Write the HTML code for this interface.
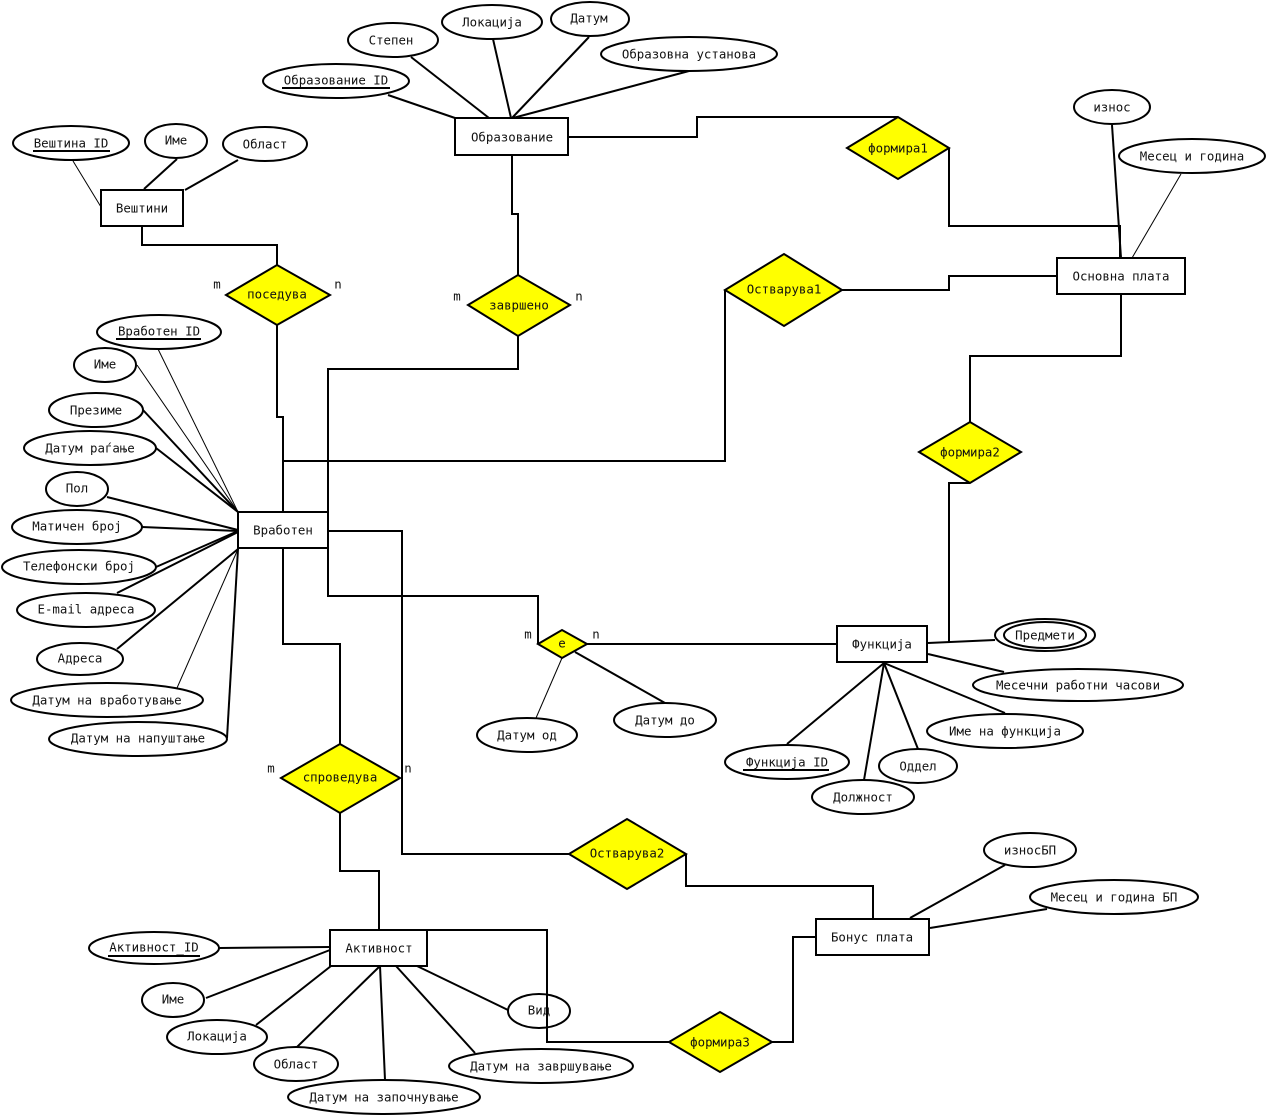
<!DOCTYPE html>
<html>
<head>
<meta charset="utf-8">
<style>
  html,body{margin:0;padding:0;background:#fff;}
  svg{display:block;}
  text{font-family:"DejaVu Sans Mono","Liberation Mono",monospace;font-size:12.4px;fill:#111;text-anchor:middle;}
  .c{fill:none;stroke:#000;stroke-width:2;}
  .t{fill:none;stroke:#000;stroke-width:1;}
  .e{fill:#fff;stroke:#000;stroke-width:2;}
  .r{fill:#fff;stroke:#000;stroke-width:2;}
  .d{fill:#ffff00;stroke:#000;stroke-width:2;}
  .u{stroke:#000;stroke-width:2;}
</style>
</head>
<body>
<svg width="1268" height="1118" viewBox="0 0 1268 1118" xmlns="http://www.w3.org/2000/svg">
<rect x="0" y="0" width="1268" height="1118" fill="#fff"/>

<!-- ===== connectors between entities/relationships ===== -->
<polyline class="c" points="142,226 142,245 277,245 277,265"/>
<polyline class="c" points="277,325 277,417 283,417 283,512"/>
<polyline class="c" points="512,155 512,214 518,214 518,275"/>
<polyline class="c" points="518,336 518,369 328,369 328,596 538,596 538,644"/>
<polyline class="c" points="283,461 725,461 725,290"/>
<polyline class="c" points="842,290 949,290 949,276 1057,276"/>
<polyline class="c" points="568,137 697,137 697,117 898,117"/>
<polyline class="c" points="949,148 949,226 1120,226 1120,258"/>
<polyline class="c" points="1121,294 1121,356 970,356 970,422"/>
<polyline class="c" points="970,483 949,483 949,642"/>
<polyline class="c" points="587,644 837,644"/>
<polyline class="c" points="283,548 283,644 340,644 340,744"/>
<polyline class="c" points="340,813 340,871 379,871 379,930"/>
<polyline class="c" points="328,531 402,531 402,854 569,854"/>
<polyline class="c" points="686,854 686,886 873,886 873,919"/>
<polyline class="c" points="816,937 793,937 793,1042 772,1042"/>

<!-- ===== attribute lines ===== -->
<!-- Вештини -->
<line class="t" x1="73" y1="161" x2="101" y2="207"/>
<line class="c" x1="177" y1="159" x2="144" y2="189"/>
<line class="c" x1="238" y1="160" x2="185" y2="190"/>
<!-- Образование -->
<line class="c" x1="388" y1="95" x2="455" y2="118"/>
<line class="c" x1="411" y1="57" x2="489" y2="118"/>
<line class="c" x1="493" y1="39" x2="511" y2="118"/>
<line class="c" x1="589" y1="37" x2="512" y2="118"/>
<line class="c" x1="689" y1="71" x2="513" y2="118"/>
<!-- Основна плата -->
<line class="c" x1="1112" y1="125" x2="1121" y2="258"/>
<line class="t" x1="1181" y1="174" x2="1132" y2="258"/>
<!-- Вработен -->
<line class="t" x1="158" y1="349" x2="238" y2="512"/>
<line class="t" x1="137" y1="365" x2="238" y2="512"/>
<line class="c" x1="143" y1="410" x2="238" y2="512"/>
<line class="c" x1="156" y1="448" x2="238" y2="512"/>
<line class="c" x1="107" y1="497" x2="238" y2="530"/>
<line class="c" x1="142" y1="527" x2="238" y2="531"/>
<line class="c" x1="156" y1="567" x2="238" y2="531"/>
<line class="c" x1="117" y1="593" x2="238" y2="532"/>
<line class="c" x1="117" y1="649" x2="238" y2="549"/>
<line class="t" x1="177" y1="688" x2="238" y2="549"/>
<line class="c" x1="227" y1="738" x2="238" y2="549"/>
<!-- e relationship -->
<line class="t" x1="562" y1="658" x2="536" y2="718"/>
<line class="c" x1="575" y1="652" x2="665" y2="703"/>
<!-- Функција -->
<line class="c" x1="928" y1="643" x2="995" y2="640"/>
<line class="c" x1="928" y1="654" x2="1004" y2="672"/>
<line class="c" x1="884" y1="663" x2="1005" y2="713"/>
<line class="c" x1="884" y1="663" x2="918" y2="749"/>
<line class="c" x1="884" y1="663" x2="864" y2="780"/>
<line class="c" x1="884" y1="663" x2="787" y2="744"/>
<!-- Бонус плата -->
<line class="c" x1="1005" y1="865" x2="910" y2="918"/>
<line class="c" x1="1047" y1="909" x2="930" y2="928"/>
<!-- Активност -->
<line class="c" x1="219" y1="948" x2="330" y2="947"/>
<line class="c" x1="206" y1="998" x2="330" y2="950"/>
<line class="c" x1="256" y1="1025" x2="331" y2="966"/>
<line class="c" x1="297" y1="1047" x2="380" y2="966"/>
<line class="c" x1="380" y1="966" x2="385" y2="1080"/>
<line class="c" x1="396" y1="966" x2="475" y2="1053"/>
<line class="c" x1="417" y1="966" x2="508" y2="1010"/>

<!-- ===== attribute ellipses ===== -->
<!-- Вештини -->
<ellipse class="e" cx="71" cy="143" rx="58" ry="17"/>
<text x="71" y="143" dy="0.35em">Вештина_ID</text>
<line class="u" x1="33" y1="151" x2="110" y2="151"/>
<ellipse class="e" cx="176" cy="141" rx="31" ry="17"/>
<text x="176" y="140" dy="0.35em">Име</text>
<ellipse class="e" cx="265" cy="144" rx="42" ry="17"/>
<text x="265" y="144" dy="0.35em">Област</text>

<!-- Образование -->
<ellipse class="e" cx="393" cy="40" rx="45" ry="17"/>
<text x="391" y="40" dy="0.35em">Степен</text>
<ellipse class="e" cx="492" cy="22" rx="50" ry="17"/>
<text x="492" y="22" dy="0.35em">Локација</text>
<ellipse class="e" cx="590" cy="19" rx="39" ry="17"/>
<text x="589" y="18" dy="0.35em">Датум</text>
<ellipse class="e" cx="689" cy="54" rx="88" ry="17"/>
<text x="689" y="54" dy="0.35em">Образовна установа</text>
<ellipse class="e" cx="336" cy="81" rx="73" ry="17"/>
<text x="336" y="80" dy="0.35em">Образование_ID</text>
<line class="u" x1="282" y1="88" x2="390" y2="88"/>

<!-- Основна плата -->
<ellipse class="e" cx="1112" cy="107" rx="38" ry="17"/>
<text x="1112" y="107" dy="0.35em">износ</text>
<ellipse class="e" cx="1192" cy="156" rx="73" ry="17"/>
<text x="1192" y="156" dy="0.35em">Месец и година</text>

<!-- Вработен -->
<ellipse class="e" cx="159" cy="332" rx="62" ry="17"/>
<text x="159" y="331" dy="0.35em">Вработен_ID</text>
<line class="u" x1="116" y1="339" x2="201" y2="339"/>
<ellipse class="e" cx="105" cy="365" rx="31" ry="17"/>
<text x="105" y="364" dy="0.35em">Име</text>
<ellipse class="e" cx="96" cy="410" rx="47" ry="17"/>
<text x="96" y="410" dy="0.35em">Презиме</text>
<ellipse class="e" cx="90" cy="448" rx="66" ry="17"/>
<text x="90" y="448" dy="0.35em">Датум раѓање</text>
<ellipse class="e" cx="77" cy="489" rx="31" ry="17"/>
<text x="77" y="488" dy="0.35em">Пол</text>
<ellipse class="e" cx="77" cy="527" rx="65" ry="17"/>
<text x="77" y="526" dy="0.35em">Матичен број</text>
<ellipse class="e" cx="79" cy="567" rx="77" ry="17"/>
<text x="79" y="566" dy="0.35em">Телефонски број</text>
<ellipse class="e" cx="86" cy="610" rx="69" ry="17"/>
<text x="86" y="609" dy="0.35em">E-mail адреса</text>
<ellipse class="e" cx="80" cy="659" rx="43" ry="16"/>
<text x="80" y="658" dy="0.35em">Адреса</text>
<ellipse class="e" cx="107" cy="700" rx="96" ry="17"/>
<text x="107" y="700" dy="0.35em">Датум на вработување</text>
<ellipse class="e" cx="138" cy="739" rx="89" ry="17"/>
<text x="138" y="738" dy="0.35em">Датум на напуштање</text>

<!-- e -->
<ellipse class="e" cx="527" cy="735" rx="50" ry="17"/>
<text x="527" y="735" dy="0.35em">Датум од</text>
<ellipse class="e" cx="665" cy="720" rx="51" ry="17"/>
<text x="665" y="720" dy="0.35em">Датум до</text>

<!-- Функција -->
<ellipse class="e" cx="1045" cy="635" rx="50" ry="16"/>
<ellipse class="e" cx="1045" cy="635" rx="41" ry="13"/>
<text x="1045" y="635" dy="0.35em">Предмети</text>
<ellipse class="e" cx="1078" cy="685" rx="105" ry="16"/>
<text x="1078" y="685" dy="0.35em">Месечни работни часови</text>
<ellipse class="e" cx="1005" cy="731" rx="78" ry="17"/>
<text x="1005" y="731" dy="0.35em">Име на функција</text>
<ellipse class="e" cx="918" cy="766" rx="39" ry="17"/>
<text x="918" y="766" dy="0.35em">Оддел</text>
<ellipse class="e" cx="863" cy="797" rx="51" ry="17"/>
<text x="863" y="797" dy="0.35em">Должност</text>
<ellipse class="e" cx="787" cy="762" rx="62" ry="17"/>
<text x="787" y="762" dy="0.35em">Функција_ID</text>
<line class="u" x1="743" y1="770" x2="829" y2="770"/>

<!-- Бонус плата -->
<ellipse class="e" cx="1030" cy="850" rx="46" ry="17"/>
<text x="1030" y="850" dy="0.35em">износБП</text>
<ellipse class="e" cx="1114" cy="897" rx="84" ry="17"/>
<text x="1114" y="897" dy="0.35em">Месец и година БП</text>

<!-- Активност -->
<ellipse class="e" cx="154" cy="948" rx="65" ry="16"/>
<text x="154" y="947" dy="0.35em">Активност_ID</text>
<line class="u" x1="108" y1="956" x2="200" y2="956"/>
<ellipse class="e" cx="173" cy="1000" rx="31" ry="17"/>
<text x="173" y="999" dy="0.35em">Име</text>
<ellipse class="e" cx="217" cy="1037" rx="50" ry="17"/>
<text x="217" y="1036" dy="0.35em">Локација</text>
<ellipse class="e" cx="296" cy="1064" rx="42" ry="17"/>
<text x="296" y="1064" dy="0.35em">Област</text>
<ellipse class="e" cx="384" cy="1097" rx="96" ry="17"/>
<text x="384" y="1097" dy="0.35em">Датум на започнување</text>
<ellipse class="e" cx="541" cy="1066" rx="92" ry="17"/>
<text x="541" y="1066" dy="0.35em">Датум на завршување</text>
<ellipse class="e" cx="539" cy="1011" rx="31" ry="17"/>
<text x="539" y="1010" dy="0.35em">Вид</text>

<!-- connector drawn over Вид -->
<polyline class="c" points="427,930 547,930 547,1042 669,1042"/>

<!-- ===== entities ===== -->
<rect class="r" x="101" y="190" width="82" height="36"/>
<text x="142" y="208" dy="0.35em">Вештини</text>
<rect class="r" x="455" y="118" width="113" height="37"/>
<text x="512" y="137" dy="0.35em">Образование</text>
<rect class="r" x="1057" y="258" width="128" height="36"/>
<text x="1121" y="276" dy="0.35em">Основна плата</text>
<rect class="r" x="238" y="512" width="90" height="36"/>
<text x="283" y="530" dy="0.35em">Вработен</text>
<rect class="r" x="837" y="626" width="90" height="36"/>
<text x="882" y="644" dy="0.35em">Функција</text>
<rect class="r" x="330" y="930" width="97" height="36"/>
<text x="379" y="948" dy="0.35em">Активност</text>
<rect class="r" x="816" y="919" width="113" height="36"/>
<text x="872" y="937" dy="0.35em">Бонус плата</text>

<!-- right edge of Вработен overlapped by vertical connector -->
<line class="c" x1="328" y1="369" x2="328" y2="596"/>

<!-- ===== relationships ===== -->
<polygon class="d" points="226,295 277,265 330,295 277,325"/>
<text x="277" y="294" dy="0.35em">поседува</text>
<polygon class="d" points="468,305 518,275 570,305 518,336"/>
<text x="519" y="305" dy="0.35em">завршено</text>
<polygon class="d" points="725,290 784,254 842,290 784,326"/>
<text x="784" y="289" dy="0.35em">Остварува1</text>
<polygon class="d" points="847,148 898,117 949,148 898,179"/>
<text x="898" y="148" dy="0.35em">формира1</text>
<polygon class="d" points="919,452 970,422 1021,452 970,483"/>
<text x="970" y="452" dy="0.35em">формира2</text>
<polygon class="d" points="538,644 562,630 587,644 562,658"/>
<text x="562" y="643" dy="0.35em">e</text>
<polygon class="d" points="281,778 340,744 400,778 340,813"/>
<text x="340" y="777" dy="0.35em">спроведува</text>
<polygon class="d" points="569,854 627,819 686,854 627,889"/>
<text x="627" y="853" dy="0.35em">Остварува2</text>
<polygon class="d" points="669,1042 720,1012 772,1042 720,1072"/>
<text x="720" y="1042" dy="0.35em">формира3</text>

<!-- ===== cardinality labels ===== -->
<text x="217" y="284" dy="0.35em">m</text>
<text x="338" y="284" dy="0.35em">n</text>
<text x="457" y="296" dy="0.35em">m</text>
<text x="579" y="296" dy="0.35em">n</text>
<text x="528" y="634" dy="0.35em">m</text>
<text x="596" y="634" dy="0.35em">n</text>
<text x="271" y="768" dy="0.35em">m</text>
<text x="408" y="768" dy="0.35em">n</text>
</svg>
</body>
</html>
